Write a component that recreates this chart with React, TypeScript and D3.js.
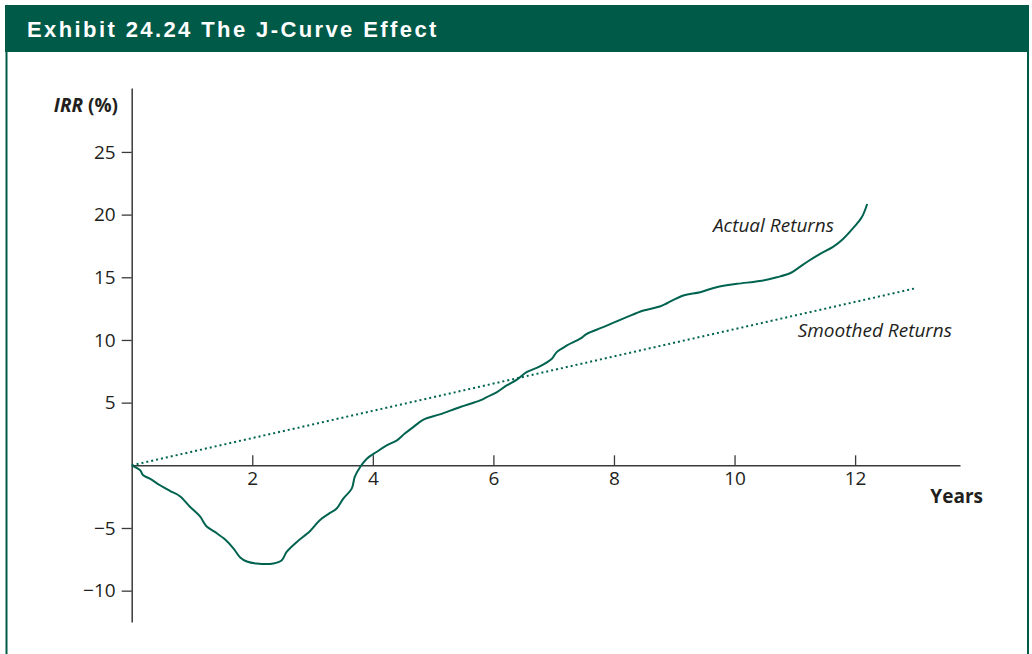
import * as d3 from "d3";
import { useEffect, useRef } from "react";

// chart data (years, IRR %)
const actualYears = [
  0, 0.14, 0.19, 0.3, 0.47, 0.64, 0.8, 0.97, 1.13, 1.24, 1.38, 1.55, 1.69, 1.8, 1.91, 2.07, 2.35, 2.49,
  2.57, 2.74, 2.96, 3.12, 3.29, 3.4, 3.51, 3.65, 3.7, 3.79, 3.9, 4.06, 4.23, 4.4, 4.53, 4.67, 4.84, 5.11,
  5.45, 5.78, 5.89, 6.06, 6.22, 6.39, 6.55, 6.77, 6.97, 7.05, 7.22, 7.44, 7.55, 7.82, 8.21, 8.49, 8.76,
  8.88, 9.15, 9.43, 9.7, 10.04, 10.42, 10.7, 10.92, 11.06, 11.22, 11.42, 11.64, 11.8, 11.97, 12.11, 12.2,
];
const actualIrr = [
  0, -0.4, -0.8, -1.06, -1.59, -2.05, -2.47, -3.32, -4.06, -4.86, -5.31, -5.92, -6.64, -7.35, -7.67, -7.83,
  -7.83, -7.57, -6.91, -6.11, -5.24, -4.38, -3.8, -3.45, -2.65, -1.86, -0.93, -0.14, 0.53, 1.06, 1.59, 1.99,
  2.53, 3.05, 3.64, 4.06, 4.65, 5.18, 5.44, 5.84, 6.37, 6.83, 7.43, 7.89, 8.5, 9.03, 9.56, 10.1, 10.49,
  11.02, 11.82, 12.35, 12.67, 12.93, 13.55, 13.81, 14.21, 14.48, 14.7, 15.0, 15.32, 15.75, 16.28, 16.87,
  17.45, 18.06, 18.94, 19.78, 20.85,
];
const smoothedYears = [0, 12.98];
const smoothedIrr = [0, 14.1];

const xTicks = [2, 4, 6, 8, 10, 12];
const yTicks = [-10, -5, 5, 10, 15, 20, 25];

const title = "Exhibit 24.24 The J-Curve Effect";
const green = "#005a48";
const lineGreen = "#006350";
const ink = "#231f20";
const font = "'Open Sans', sans-serif";

export default function App() {
  const ref = useRef<SVGSVGElement>(null);

  useEffect(() => {
    const svg = d3.select(ref.current);
    svg.selectAll("*").remove();

    const x = d3.scaleLinear().domain([0, 13.74]).range([131.7, 960]);
    const y = d3.scaleLinear().domain([-12.5, 30.1]).range([622, 88]);

    // header + frame
    svg.append("rect").attr("x", 5).attr("y", 5).attr("width", 1024).attr("height", 47).attr("fill", green);
    svg
      .append("text")
      .attr("x", 27)
      .attr("y", 37)
      .attr("fill", "#fff")
      .style("font-family", "'Liberation Sans', Arial, sans-serif")
      .style("font-weight", "bold")
      .style("font-size", "22px")
      .style("letter-spacing", "2.4px")
      .text(title);
    svg.append("line").attr("x1", 6.5).attr("x2", 6.5).attr("y1", 52).attr("y2", 654)
      .attr("stroke", green).attr("stroke-width", 2);
    svg.append("line").attr("x1", 1028).attr("x2", 1028).attr("y1", 52).attr("y2", 654)
      .attr("stroke", green).attr("stroke-width", 2);

    // axes
    const fmt = (d: any) => String(d).replace("-", "\u2212");
    const yAxis = svg
      .append("g")
      .attr("transform", `translate(${x(0)},0)`)
      .call(d3.axisLeft(y).tickValues(yTicks).tickSize(10).tickSizeOuter(0).tickPadding(6).tickFormat(fmt));
    const xAxis = svg
      .append("g")
      .attr("transform", `translate(0,${y(0)})`)
      .call(d3.axisBottom(x).tickValues(xTicks).tickSize(-10).tickSizeOuter(0).tickPadding(6));

    [yAxis, xAxis].forEach((g) => {
      g.attr("font-family", font).attr("font-size", 19);
      g.select(".domain").attr("stroke", "#3a3a3a").attr("stroke-width", 1.5);
      g.selectAll(".tick line").attr("stroke", "#3a3a3a").attr("stroke-width", 1.3);
      g.selectAll(".tick text").attr("fill", ink);
    });

    // smoothed returns (dotted)
    const smooth = d3
      .line<[number, number]>()
      .x((d) => x(d[0]))
      .y((d) => y(d[1]));
    svg
      .append("path")
      .attr("d", smooth(d3.zip(smoothedYears, smoothedIrr) as [number, number][]))
      .attr("fill", "none")
      .attr("stroke", lineGreen)
      .attr("stroke-width", 2)
      .attr("stroke-dasharray", "2,3");

    // actual returns
    const actual = d3
      .line<[number, number]>()
      .x((d) => x(d[0]))
      .y((d) => y(d[1]))
      .curve(d3.curveCatmullRom);
    svg
      .append("path")
      .attr("d", actual(d3.zip(actualYears, actualIrr) as [number, number][]))
      .attr("fill", "none")
      .attr("stroke", lineGreen)
      .attr("stroke-width", 2);

    // labels
    const lbl = svg.append("g").attr("font-family", font).attr("fill", ink).attr("font-size", 19);
    const irr = lbl.append("text").attr("x", 118).attr("y", 112).attr("text-anchor", "end").attr("font-weight", "bold");
    irr.append("tspan").attr("font-style", "italic").text("IRR");
    irr.append("tspan").text(" (%)");
    lbl.append("text").attr("x", 983).attr("y", 503).attr("text-anchor", "end").attr("font-weight", "bold").text("Years");
    lbl.append("text").attr("x", 834).attr("y", 232).attr("text-anchor", "end").attr("font-style", "italic").text("Actual Returns");
    lbl.append("text").attr("x", 952).attr("y", 337).attr("text-anchor", "end").attr("font-style", "italic").text("Smoothed Returns");
  }, []);

  return (
    <svg
      ref={ref}
      width={1032}
      height={654}
      style={{ position: "absolute", left: 0, top: 0, background: "#fff" }}
    />
  );
}
